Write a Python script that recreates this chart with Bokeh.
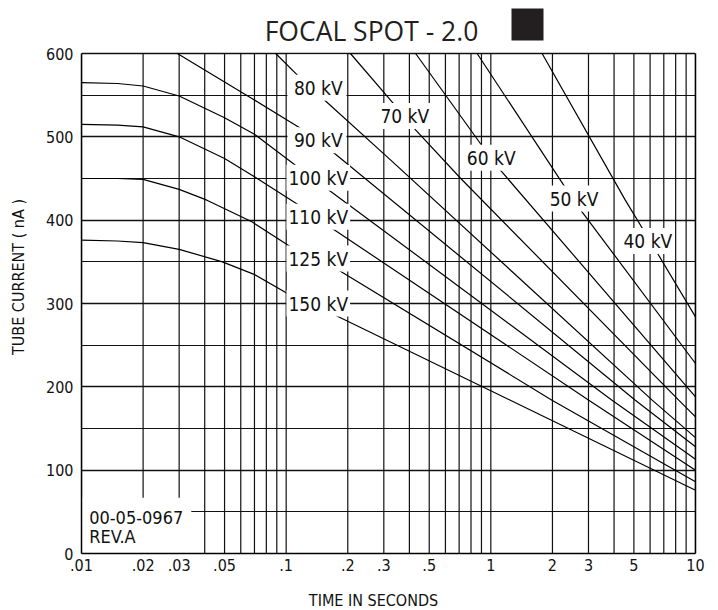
from bokeh.plotting import figure
from bokeh.models import FixedTicker, Label, LinearAxis, Range1d, BoxAnnotation
from bokeh.core.properties import value
from bokeh.embed import file_html
from bokeh.resources import INLINE

# ---------------- data ----------------
x_ticks = [0.01, 0.02, 0.03, 0.05, 0.1, 0.2, 0.3, 0.5, 1, 2, 3, 5, 10]
x_tick_labels = [".01", ".02", ".03", ".05", ".1", ".2", ".3", ".5", "1", "2", "3", "5", "10"]
x_minor = [0.01, 0.02, 0.03, 0.04, 0.05, 0.06, 0.07, 0.08, 0.09,
           0.1, 0.2, 0.3, 0.4, 0.5, 0.6, 0.7, 0.8, 0.9,
           1, 2, 3, 4, 5, 6, 7, 8, 9, 10]
y_ticks = [0, 100, 200, 300, 400, 500, 600]
y_minor = [50, 150, 250, 350, 450, 550]

kv_labels = ["40 kV", "50 kV", "60 kV", "70 kV", "80 kV",
             "90 kV", "100 kV", "110 kV", "125 kV", "150 kV"]

t40 = [1.78, 4.54, 6.53, 10]
ma40 = [600, 424, 360, 284]

t50 = [0.857, 2.27, 2.79, 10]
ma50 = [600, 442, 410, 228]

t60 = [0.429, 0.889, 1.114, 10]
ma60 = [600, 492, 460, 188]

t70 = [0.206, 0.329, 0.43, 0.713, 8.28, 10]
ma70 = [600, 542, 508, 450, 184, 164]

t80 = [0.0889, 0.1135, 0.1464, 0.3243, 6.14, 10]
ma80 = [600, 574, 549, 472, 184, 139]

t90 = [0.0294, 0.068, 0.118, 0.165, 5.08, 10]
ma90 = [600, 546, 510, 484, 184, 128]

t100 = [0.01, 0.015, 0.02, 0.03, 0.05, 0.07, 0.111, 0.162, 3.91, 10]
ma100 = [565, 564, 561, 549, 523, 503, 466, 436, 184, 113]

t110 = [0.01, 0.015, 0.02, 0.03, 0.05, 0.07, 0.1156, 0.168, 3.01, 10]
ma110 = [515, 514, 512, 500, 474, 452, 418, 390, 184, 100]

t125 = [0.01, 0.015, 0.02, 0.03, 0.041, 0.068, 0.105, 0.175, 1.99, 10]
ma125 = [450, 450, 449, 437, 424, 398, 368, 342, 184, 86]

t150 = [0.01, 0.015, 0.02, 0.03, 0.0488, 0.0697, 0.105, 0.167, 10]
ma150 = [376, 375, 373, 365, 350, 335, 310, 288, 76]

series_t = [t40, t50, t60, t70, t80, t90, t100, t110, t125, t150]
series_ma = [ma40, ma50, ma60, ma70, ma80, ma90, ma100, ma110, ma125, ma150]

# label anchor points (time, mA) for each kV label
label_t = [5.85, 2.55, 1.004, 0.380, 0.1435, 0.1435, 0.1435, 0.1435, 0.1435, 0.1435]
label_ma = [375, 426, 475, 525, 559, 496, 451, 404, 354, 300]

note_lines = ["00-05-0967", "REV.A"]
title_text = "FOCAL SPOT - 2.0"
x_title = "TIME IN SECONDS"
y_title = "TUBE CURRENT ( nA )"

# ---------------- layout ----------------
W, H = 718, 610
LEFT, RIGHT, BOTTOM = 81, 23, 57
FRAME_H = H - BOTTOM            # frame reaches the top of the canvas
CHART_H = 500                   # pixel height of the 0..600 chart area
Y_MAX = 600
Y_END = Y_MAX * FRAME_H / CHART_H   # range end so that 0..600 spans 500 px

CAD = "Liberation Sans Narrow, DejaVu Sans Condensed, Liberation Sans, sans-serif"
INK = "#111111"

p = figure(width=W, height=H, x_axis_type="log",
           x_range=(0.01, 10), y_range=Range1d(0, Y_END),
           output_backend="svg", toolbar_location=None, title_location=None,
           min_border_left=LEFT, min_border_right=RIGHT,
           min_border_top=0, min_border_bottom=BOTTOM,
           background_fill_color="white", border_fill_color="white")
p.outline_line_color = None

# axes
p.xaxis.ticker = FixedTicker(ticks=x_ticks, minor_ticks=x_minor)
p.xaxis.major_label_overrides = {t: lab for t, lab in zip(x_ticks, x_tick_labels)}
p.yaxis.ticker = FixedTicker(ticks=y_ticks, minor_ticks=y_minor)
p.yaxis.bounds = (0, Y_MAX)
for ax in (p.xaxis, p.yaxis):
    ax.major_tick_line_color = None
    ax.minor_tick_line_color = None
    ax.major_tick_out = 0
    ax.major_tick_in = 0
    ax.minor_tick_out = 0
    ax.minor_tick_in = 0
    ax.axis_line_color = "black"
    ax.axis_line_width = 1.5
    ax.major_label_text_font = CAD
    ax.major_label_text_font_size = "16px"
    ax.major_label_text_color = INK
    ax.axis_label_text_font = CAD
    ax.axis_label_text_font_size = "16px"
    ax.axis_label_text_font_style = "normal"
    ax.axis_label_text_color = INK
p.yaxis.axis_label = y_title
p.yaxis.major_label_standoff = 8
p.xaxis.major_label_standoff = 5
p.yaxis.axis_label_standoff = 15

# x-axis title placed in the bottom panel (canvas units, not clipped)
p.add_layout(Label(x=373, y=600, x_units="canvas", y_units="canvas",
                   text=x_title, text_font=CAD, text_font_size="16px",
                   text_align="center", text_baseline="middle",
                   text_color=INK), "below")

# right border of the chart box
right_ax = LinearAxis(ticker=FixedTicker(ticks=[]), bounds=(0, Y_MAX),
                      axis_line_color="black", axis_line_width=1.5,
                      major_tick_line_color=None, minor_tick_line_color=None,
                      major_tick_out=0, minor_tick_out=0,
                      major_label_text_font_size="0px", major_label_standoff=0)
p.add_layout(right_ax, "right")

# horizontal grid from the y ticker; vertical grid drawn only over 0..600
p.xgrid.visible = False
p.ygrid.grid_line_color = INK
p.ygrid.grid_line_width = 1.5
p.ygrid.grid_line_alpha = 1
p.ygrid.minor_grid_line_color = INK
p.ygrid.minor_grid_line_width = 1.2
p.ygrid.minor_grid_line_alpha = 1
p.segment(x0=x_minor, y0=[0] * len(x_minor), x1=x_minor, y1=[Y_MAX] * len(x_minor),
          line_color=INK, line_width=1.2)

# white masks: label column, note box
p.quad(left=[0.1015], right=[0.197], bottom=[285], top=[Y_MAX - 1.2],
       fill_color="white", line_color=None)
p.quad(left=[0.01], right=[0.0344], bottom=[0], top=[67],
       fill_color="white", line_color=None)

# curves
for ts, ms in zip(series_t, series_ma):
    p.line(ts, ms, line_color="black", line_width=1.2)

# kV labels with white background
p.text(x=label_t, y=label_ma, text=kv_labels,
       text_align="center", text_baseline="middle",
       text_font=value(CAD), text_font_size="19px", text_color=INK,
       background_fill_color="white", padding=2)

# drawing number note
p.text(x=[0.0109, 0.0109], y=[43, 20], text=note_lines,
       text_align="left", text_baseline="middle",
       text_font=value(CAD), text_font_size="18px", text_color=INK)

# title and black square in the header strip (screen units from frame bottom-left)
p.add_layout(Label(x=290, y=FRAME_H - 30, x_units="screen", y_units="screen",
                   text=title_text, text_font="Open Sans", text_font_size="26.5px",
                   text_align="center", text_baseline="middle",
                   text_color="#231f20"))
p.add_layout(BoxAnnotation(left=430, right=462, bottom=FRAME_H - 40, top=FRAME_H - 8,
                           left_units="screen", right_units="screen",
                           bottom_units="screen", top_units="screen",
                           fill_color="#231f20", fill_alpha=1, line_color=None))

open("out.html", "w").write(file_html(p, INLINE))
